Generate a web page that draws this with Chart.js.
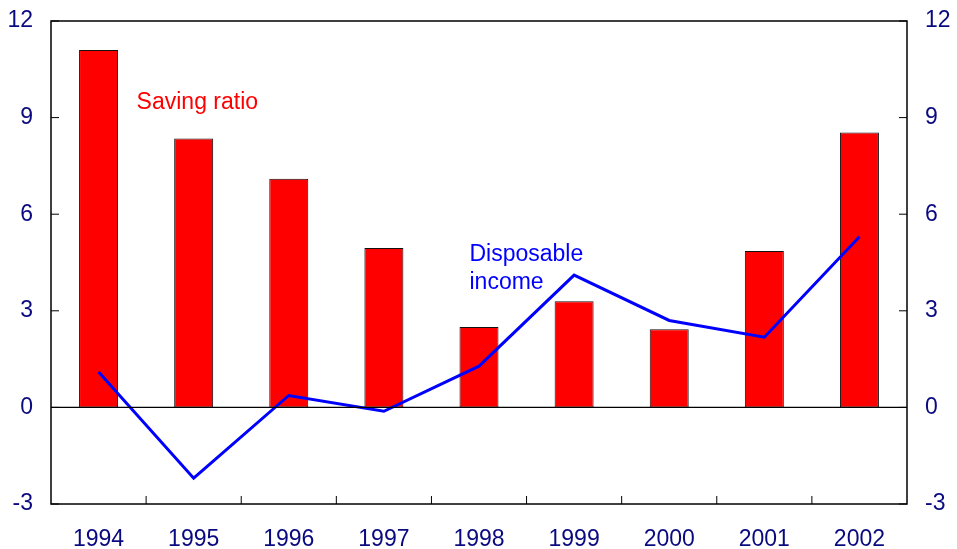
<!DOCTYPE html>
<html>
<head>
<meta charset="utf-8">
<script src="https://cdn.jsdelivr.net/npm/chart.js@4.4.0/dist/chart.umd.min.js"></script>
<style>
  html, body { margin: 0; padding: 0; background: #fff; }
  #wrap { width: 957px; height: 549px; }
</style>
</head>
<body>
<div id="wrap"><canvas id="grafico" width="957" height="549"></canvas></div>
<script>
// Dados
const anos = ['1994', '1995', '1996', '1997', '1998', '1999', '2000', '2001', '2002'];
const taxaPoupanca = [11.1, 8.35, 7.1, 4.95, 2.5, 3.3, 2.43, 4.86, 8.54];
const rendaDisponivel = [1.1, -2.2, 0.37, -0.12, 1.28, 4.11, 2.7, 2.18, 5.3];
const ticksY = [-3, 0, 3, 6, 9, 12];

const azulEscuro = '#0a0a80';
const fonte = 'Liberation Sans, Arial, sans-serif';

// Moldura, ticks internos e textos
const molduraPlugin = {
  id: 'moldura',
  afterDatasetsDraw(chart) {
    const { ctx, chartArea: a, scales } = chart;
    const x = scales.x, y = scales.y;
    ctx.save();
    ctx.strokeStyle = '#000';
    ctx.lineWidth = 1.5;
    ctx.strokeRect(a.left, a.top, a.right - a.left, a.bottom - a.top);

    // linha do zero
    const y0 = y.getPixelForValue(0);
    ctx.lineWidth = 1.2;
    ctx.beginPath();
    ctx.moveTo(a.left, y0);
    ctx.lineTo(a.right, y0);
    ctx.stroke();

    // ticks do eixo y (dentro da área)
    ctx.lineWidth = 1;
    ticksY.forEach(v => {
      const py = y.getPixelForValue(v);
      ctx.beginPath();
      ctx.moveTo(a.left, py);
      ctx.lineTo(a.left + 8, py);
      ctx.moveTo(a.right, py);
      ctx.lineTo(a.right - 8, py);
      ctx.stroke();
    });

    // ticks do eixo x entre categorias
    for (let i = 1; i < anos.length; i++) {
      const px = x.getPixelForValue(i - 0.5);
      ctx.beginPath();
      ctx.moveTo(px, a.bottom);
      ctx.lineTo(px, a.bottom - 8);
      ctx.stroke();
    }

    // rótulos das séries
    ctx.font = '23px ' + fonte;
    ctx.textBaseline = 'middle';
    ctx.textAlign = 'left';
    ctx.fillStyle = '#ff0000';
    ctx.fillText('Saving ratio', x.getPixelForValue(0.4), y.getPixelForValue(9.47));
    ctx.fillStyle = '#0000ff';
    ctx.fillText('Disposable', x.getPixelForValue(3.9), y.getPixelForValue(4.73));
    ctx.fillText('income', x.getPixelForValue(3.9), y.getPixelForValue(3.86));
    ctx.restore();
  }
};

function ajustarEixoY(largura) {
  return function (scale) {
    scale.width = largura;
    scale.paddingTop = 0;
    scale.paddingBottom = 0;
  };
}

function criarGrafico() {
  const ctx = document.getElementById('grafico').getContext('2d');

  new Chart(ctx, {
    type: 'bar',
    data: {
      labels: anos,
      datasets: [
        {
          type: 'line',
          label: 'Disposable income',
          data: rendaDisponivel,
          borderColor: '#0000ff',
          borderWidth: 3,
          pointRadius: 0,
          tension: 0,
          fill: false,
          yAxisID: 'y',
          order: 0
        },
        {
          type: 'bar',
          label: 'Saving ratio',
          data: taxaPoupanca,
          backgroundColor: '#ff0000',
          borderColor: '#111',
          borderWidth: 1,
          borderSkipped: false,
          categoryPercentage: 1,
          barPercentage: 0.41,
          yAxisID: 'y',
          order: 1
        }
      ]
    },
    options: {
      responsive: false,
      animation: false,
      layout: { padding: { top: 21, right: 0, left: 0, bottom: 0 } },
      plugins: {
        legend: { display: false },
        tooltip: { enabled: false }
      },
      scales: {
        x: {
          grid: { display: false, drawTicks: false },
          border: { display: false },
          ticks: {
            color: azulEscuro,
            font: { family: fonte, size: 23 },
            padding: 22,
            maxRotation: 0
          },
          afterFit(scale) {
            scale.height = 45;
            scale.paddingLeft = 0;
            scale.paddingRight = 0;
          }
        },
        y: {
          position: 'left',
          min: -3,
          max: 12,
          grid: { display: false, drawTicks: false },
          border: { display: false },
          afterBuildTicks(scale) { scale.ticks = ticksY.map(v => ({ value: v })); },
          ticks: {
            color: azulEscuro,
            font: { family: fonte, size: 23 },
            padding: 18
          },
          afterFit: ajustarEixoY(51)
        },
        y2: {
          position: 'right',
          min: -3,
          max: 12,
          grid: { display: false, drawTicks: false },
          border: { display: false },
          afterBuildTicks(scale) { scale.ticks = ticksY.map(v => ({ value: v })); },
          ticks: {
            color: azulEscuro,
            font: { family: fonte, size: 23 },
            padding: 18
          },
          afterFit: ajustarEixoY(50)
        }
      }
    },
    plugins: [molduraPlugin]
  });
}

document.addEventListener('DOMContentLoaded', criarGrafico);
</script>
</body>
</html>
